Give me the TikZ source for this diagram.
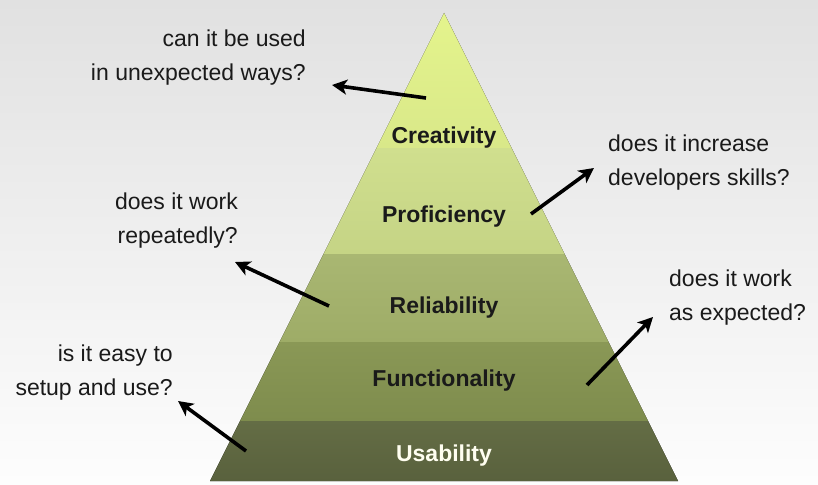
\documentclass[tikz,border=0pt]{standalone}
\usepackage{fontspec}
\setmainfont{Liberation Sans}
\usepackage{xcolor}
\usepackage{tikz}
\usetikzlibrary{arrows.meta, positioning, calc}

\definecolor{bgtop}{HTML}{E1E1E1}
\definecolor{bgbot}{HTML}{FDFDFD}
\definecolor{creaT}{HTML}{E4F48C}
\definecolor{creaB}{HTML}{D9E889}
\definecolor{profT}{HTML}{D0DF8E}
\definecolor{profB}{HTML}{C5D485}
\definecolor{reliT}{HTML}{A9B772}
\definecolor{reliB}{HTML}{9EAC67}
\definecolor{funcT}{HTML}{8A9856}
\definecolor{funcB}{HTML}{7E8C4D}
\definecolor{usabT}{HTML}{646D45}
\definecolor{usabB}{HTML}{59613D}
\definecolor{txtgray}{HTML}{1A1A1A}

\begin{document}
\begin{tikzpicture}[
    x=1pt, y=-1pt,
    level/.style={anchor=base, font=\fontsize{23}{34}\selectfont\bfseries, text=txtgray, inner sep=0pt},
    question/.style={font=\fontsize{23}{34}\selectfont, text=txtgray, inner sep=0pt},
    arrow/.style={-{Stealth[length=15pt, width=15pt, inset=4pt]}, line width=3.6pt}
]
% ==========================================
% FONDO
% ==========================================
\useasboundingbox (0,0) rectangle (818,484);
\fill[top color=bgtop, bottom color=bgbot] (0,0) rectangle (818,484);

% ==========================================
% PIRAMIDE
% ==========================================
\foreach \ytop/\ybot/\ctop/\cbot in {13/148/creaT/creaB, 148/254/profT/profB, 254/342/reliT/reliB, 342/421/funcT/funcB, 421/481/usabT/usabB} {
    \fill[top color=\ctop, bottom color=\cbot]
        ({444-0.5*(\ytop-13)},\ytop) -- ({444+0.5*(\ytop-13)},\ytop)
        -- ({444+0.5*(\ybot-13)},\ybot) -- ({444-0.5*(\ybot-13)},\ybot) -- cycle;
}

\node[level] (crea) at (444,143) {Creativity};
\node[level] (prof) at (444,222) {Proficiency};
\node[level] (reli) at (444,313) {Reliability};
\node[level] (func) at (444,386) {Functionality};
\node[level, text=white!94!yellow] (usab) at (444,461) {Usability};

% ==========================================
% PREGUNTAS
% ==========================================
\node[question, anchor=base east, align=right] (q-crea) at (306,81) {can it be used\\in unexpected ways?};
\node[question, anchor=base west, align=left] (q-prof) at (608,185) {does it increase\\developers skills?};
\node[question, anchor=base east, align=right] (q-reli) at (238,243) {does it work\\repeatedly?};
\node[question, anchor=base west, align=left] (q-func) at (669,320) {does it work\\as expected?};
\node[question, anchor=base east, align=right] (q-usab) at (173,395) {is it easy to\\setup and use?};

% Flechas
\coordinate (crea-from) at (426,98);  \coordinate (crea-to) at (332,85);
\coordinate (prof-from) at (531,214); \coordinate (prof-to) at (594,168);
\coordinate (reli-from) at (329,306); \coordinate (reli-to) at (235,262);
\coordinate (func-from) at (587,385); \coordinate (func-to) at (653,317);
\coordinate (usab-from) at (246,451); \coordinate (usab-to) at (178,401);

\foreach \i in {crea,prof,reli,func,usab} {
    \draw[arrow] (\i-from) -- (\i-to);
}

\end{tikzpicture}
\end{document}
